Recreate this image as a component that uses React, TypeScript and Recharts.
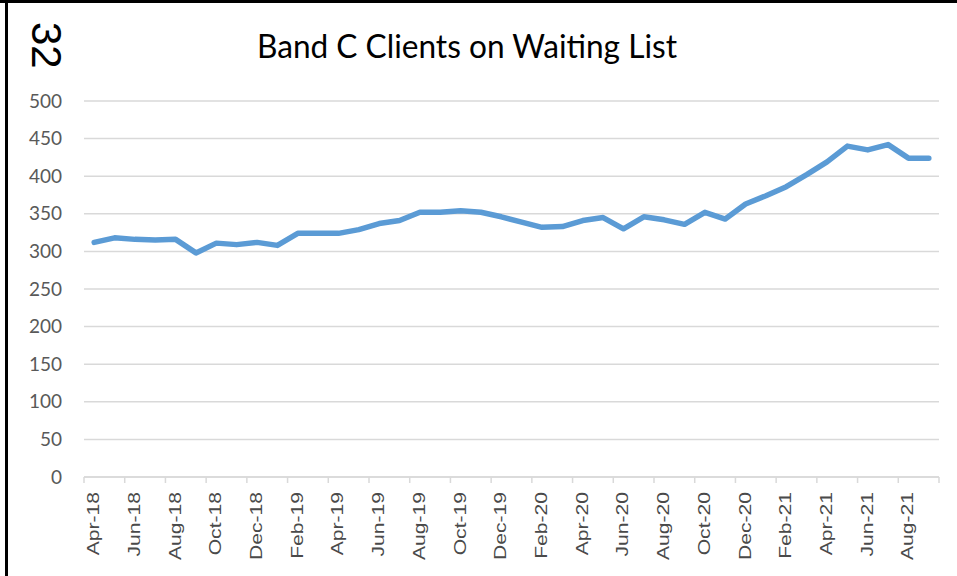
import React from "react";
import { LineChart, Line, XAxis, YAxis, CartesianGrid } from "recharts";

const months: string[] = [
  "Apr-18", "May-18", "Jun-18", "Jul-18", "Aug-18", "Sep-18", "Oct-18", "Nov-18", "Dec-18", "Jan-19",
  "Feb-19", "Mar-19", "Apr-19", "May-19", "Jun-19", "Jul-19", "Aug-19", "Sep-19", "Oct-19", "Nov-19",
  "Dec-19", "Jan-20", "Feb-20", "Mar-20", "Apr-20", "May-20", "Jun-20", "Jul-20", "Aug-20", "Sep-20",
  "Oct-20", "Nov-20", "Dec-20", "Jan-21", "Feb-21", "Mar-21", "Apr-21", "May-21", "Jun-21", "Jul-21",
  "Aug-21", "Sep-21",
];

const clients: number[] = [
  312, 318, 316, 315, 316, 298, 311, 309, 312, 308,
  324, 324, 324, 329, 337, 341, 352, 352, 354, 352,
  346, 339, 332, 333, 341, 345, 330, 346, 342, 336,
  352, 343, 363, 374, 386, 402, 419, 440, 435, 442,
  424, 424,
];

const yTicks: number[] = [0, 50, 100, 150, 200, 250, 300, 350, 400, 450, 500];

const title = "Band C Clients on Waiting List";
const pageNumber = "32";

const data = months.map((m, i) => ({ month: m, value: clients[i] }));

const W = 957;
const H = 576;
const M = { top: 101, right: 18, bottom: 0, left: 0 };
const Y_AXIS_W = 84;
const X_AXIS_H = 99;
const PLOT_W = W - M.left - M.right - Y_AXIS_W;
const BAND = PLOT_W / months.length;
const GRID = "#D9D9D9";
const TEXT = "#595959";

const XTick = (props: any) => {
  const { x, y, index } = props;
  const last = index === months.length - 1;
  const showLabel = index % 2 === 0;
  return (
    <g>
      {showLabel && (
        <line x1={x - BAND / 2} x2={x - BAND / 2} y1={y} y2={y + 6} stroke={GRID} strokeWidth={1.5} />
      )}
      {last && (
        <line x1={x + BAND / 2} x2={x + BAND / 2} y1={y} y2={y + 6} stroke={GRID} strokeWidth={1.5} />
      )}
      {showLabel && (
        <text
          transform={`translate(${x + 5},${y + 15}) rotate(-90) scale(1.32,1)`}
          textAnchor="end"
          fontFamily="'Liberation Sans', Arial, sans-serif"
          fontSize={16}
          fill="#4a4a4a"
        >
          {props.payload.value}
        </text>
      )}
    </g>
  );
};

const YTick = (props: any) => {
  const { x, y, payload } = props;
  return (
    <text
      x={x}
      y={y}
      dy="0.35em"
      textAnchor="end"
      fontFamily="Lato, 'Open Sans', sans-serif"
      fontSize={19}
      fill={TEXT}
    >
      {payload.value}
    </text>
  );
};

export default function App() {
  return (
    <div style={{ position: "absolute", left: 0, top: 0, width: W, height: H, background: "#fff" }}>
      <LineChart width={W} height={H} data={data} margin={M}>
        <CartesianGrid vertical={false} stroke={GRID} strokeWidth={1.5} />
        <XAxis
          dataKey="month"
          scale="point"
          padding={{ left: BAND / 2, right: BAND / 2 }}
          interval={0}
          height={X_AXIS_H}
          tickLine={false}
          tickSize={0}
          tickMargin={0}
          axisLine={{ stroke: GRID, strokeWidth: 1.5 }}
          tick={<XTick />}
        />
        <YAxis
          domain={[0, 500]}
          ticks={yTicks}
          width={Y_AXIS_W}
          axisLine={false}
          tickLine={false}
          tickSize={0}
          tickMargin={22}
          tick={<YTick />}
          interval={0}
        />
        <Line
          type="linear"
          dataKey="value"
          stroke="#5B9BD5"
          strokeWidth={5.5}
          strokeLinejoin="round"
          strokeLinecap="round"
          dot={false}
          activeDot={false}
          isAnimationActive={false}
        />
      </LineChart>
      <svg width={W} height={H} style={{ position: "absolute", left: 0, top: 0, pointerEvents: "none" }}>
        <text
          x={257}
          y={58}
          textLength={420}
          lengthAdjust="spacingAndGlyphs"
          fontFamily="Lato, 'Open Sans', sans-serif"
          fontSize={32}
          fill="#000"
        >
          {title}
        </text>
        <text
          transform="translate(32,22) rotate(90)"
          fontFamily="'Liberation Sans', Arial, sans-serif"
          fontSize={42}
          fill="#000"
        >
          {pageNumber}
        </text>
        <rect x={0} y={0} width={W} height={3} fill="#000" />
        <rect x={5} y={0} width={3} height={H} fill="#000" />
      </svg>
    </div>
  );
}
